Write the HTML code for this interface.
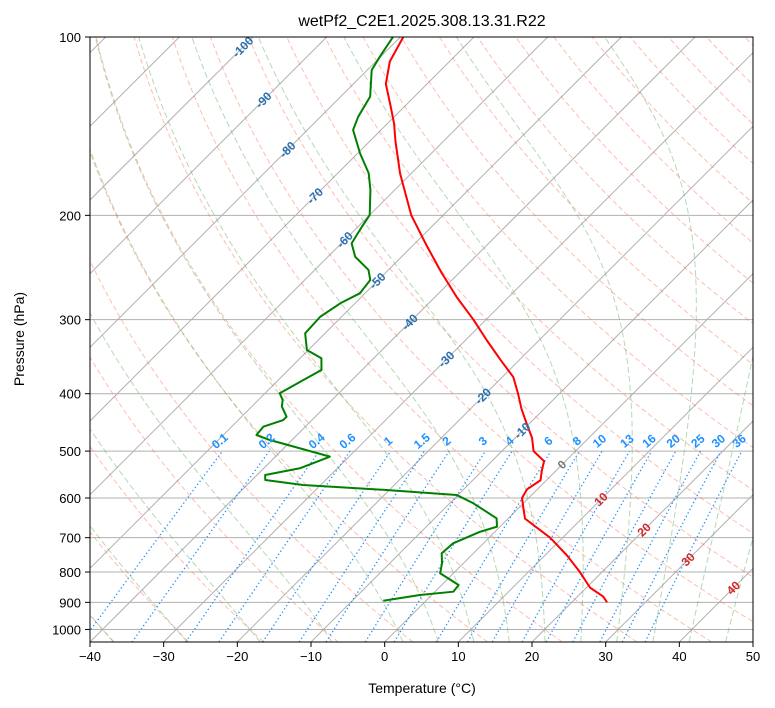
<!DOCTYPE html>
<html><head><meta charset="utf-8"><style>
html,body{margin:0;padding:0;background:#fff;}
svg{display:block;font-family:"Liberation Sans","DejaVu Sans",sans-serif;}
</style></head><body>
<svg id="chart" width="775" height="708" viewBox="0 0 775 708" xmlns="http://www.w3.org/2000/svg">
<defs><clipPath id="clip"><rect x="90" y="37" width="663" height="605"/></clipPath></defs>
<rect x="0" y="0" width="775" height="708" fill="#fff"/>
<g id="plot" clip-path="url(#clip)"></g>
<g id="labels" clip-path="url(#clip)"></g>
<rect x="90" y="37" width="663" height="605" fill="none" stroke="#000" stroke-width="1"/>
<g id="axes"></g>
<text x="422" y="26" text-anchor="middle" font-size="16">wetPf2_C2E1.2025.308.13.31.R22</text>
<text x="422" y="693" text-anchor="middle" font-size="14">Temperature (°C)</text>
<text x="24" y="339" text-anchor="middle" font-size="14" transform="rotate(-90 24 339)">Pressure (hPa)</text>
</svg>
<script>
const tempP = [100,110,120,130,140,150,170,200,225,250,275,300,325,350,375,400,425,450,475,500,520,540,560,580,600,620,650,700,750,800,850,880,900];
const tempT = [-79.6,-78.1,-75.6,-72.2,-69.1,-66.5,-61.5,-54.3,-48.1,-42.4,-37.0,-31.7,-27.1,-22.7,-18.5,-15.6,-13.0,-10.3,-7.7,-5.7,-2.9,-1.9,-0.8,-1.4,-0.9,0.4,2.3,8.3,13.0,17.0,20.5,23.5,24.8];
const dewP = [100,108,113.7,126.1,136.3,143.5,157.1,169.8,181.2,199.7,211.7,223,234.9,247.3,257.1,270.8,281.5,296.6,316.3,337.5,348.6,364.8,379.3,399.4,409.9,420.7,437.4,443.1,454.8,469.7,478.9,510.9,534.5,548.6,559.4,570.4,581.6,592.9,612.4,649.2,670.8,684,715.5,743.8,773.3,803.9,841.3,863.5,874.7,894.3];
const dewT = [-81.0,-80.1,-79.4,-76.0,-74.9,-73.8,-69.7,-65.8,-63.3,-60.0,-59.3,-58.6,-56.3,-52.7,-51.1,-50.7,-52.0,-52.9,-52.7,-50.2,-47.1,-45.5,-46.6,-48.0,-46.7,-45.9,-43.9,-43.9,-45.7,-45.5,-43.0,-32.6,-35.1,-38.9,-38.2,-32.4,-20.4,-10.2,-6.8,-1.6,-0.4,-2.0,-4.1,-4.3,-2.9,-1.8,2.3,2.5,-1.6,-5.8];
const xTicks = [-40,-30,-20,-10,0,10,20,30,40,50];
const pTicks = [100,200,300,400,500,600,700,800,900,1000];
const mixRatios = [0.1,0.2,0.4,0.6,1,1.5,2,3,4,6,8,10,13,16,20,25,30,36];
const isoLabelT = [-100,-90,-80,-70,-60,-50,-40,-30,-20,-10,0,10,20,30,40];
const isoLabelP = [104,127.8,155,185.5,220,258,303,350,404,462,527,603,679,762,851];

const X0=90,X1=753,Y0=37,Y1=642,NS='http://www.w3.org/2000/svg';
const KX=(X1-X0)/90;
function yP(p){return Y0+(Y1-Y0)*Math.log(p/100)/Math.log(10.5);}
function xT(T,p){return X0+(T+40)*KX+(Y1-yP(p));}
function mk(tag,attrs,parent){const e=document.createElementNS(NS,tag);for(const k in attrs)e.setAttribute(k,attrs[k]);parent.appendChild(e);return e;}
const plot=document.getElementById('plot'),labels=document.getElementById('labels'),axes=document.getElementById('axes');
function pathOf(ps,ts){return ps.map((p,i)=>(i?'L':'M')+xT(ts[i],p).toFixed(2)+' '+yP(p).toFixed(2)).join('');}
function logRange(a,b,n){const r=[];for(let i=0;i<=n;i++)r.push(a*Math.pow(b/a,i/n));return r;}

pTicks.forEach(p=>{
  const l=mk('line',{x1:X0,x2:X1,y1:yP(p),y2:yP(p),stroke:'#b0b0b0','stroke-width':1},plot);
  
  
});
for(let T=-170;T<=50;T+=10){
  const l=mk('line',{x1:xT(T,1050),y1:yP(1050),x2:xT(T,100),y2:yP(100),stroke:'#b0b0b0','stroke-width':1},plot);
  
  
}
const pl=logRange(1050,100,50);
for(let t0=-40;t0<=250;t0+=10){
  const th=t0+273.15;
  const ts=pl.map(p=>th*Math.pow(p/1000,0.2857)-273.15);
  const e=mk('path',{d:pathOf(pl,ts),fill:'none',stroke:'rgba(250,110,80,0.45)','stroke-width':1,'stroke-dasharray':'5,3'},plot);
  
  
}
function es(T){return 6.112*Math.exp(17.67*T/(T+243.5));}
function dTdp(p,Tc){const T=Tc+273.15,e=es(Tc),rs=0.622*e/(p-e),Rd=287.04,Lv=2.501e6,Cp=1005.7,eps=0.622;
  return (Rd*T+Lv*rs)/(p*(Cp+Lv*Lv*rs*eps/(Rd*T*T)));}
function moist(t0){
  const up=[];let T=t0,p=1000;const n=60;
  const pu=logRange(1000,100,n);
  for(let i=0;i<=n;i++){up.push([pu[i],T]);if(i<n){const h=pu[i+1]-pu[i];
    const k1=dTdp(p,T),k2=dTdp(p+h/2,T+h/2*k1),k3=dTdp(p+h/2,T+h/2*k2),k4=dTdp(p+h,T+h*k3);
    T+=h/6*(k1+2*k2+2*k3+k4);p=pu[i+1];}}
  const h=50;const k1=dTdp(1000,t0),k2=dTdp(1025,t0+25*k1),k3=dTdp(1025,t0+25*k2),k4=dTdp(1050,t0+50*k3);
  const Tb=t0+h/6*(k1+2*k2+2*k3+k4);
  return [[1050,Tb]].concat(up);
}
const moistT0=[-40,-30,-20,-10,0,5,10,15,20,25,30,35,40,45,50];
moistT0.forEach(t0=>{
  const pts=moist(t0);
  const e=mk('path',{d:pathOf(pts.map(a=>a[0]),pts.map(a=>a[1])),fill:'none',stroke:'rgba(90,170,90,0.45)','stroke-width':1,'stroke-dasharray':'6,3'},plot);
  
  
});
function tdOf(w,p){const e=p*w/(622+w);const l=Math.log(e/6.112);return 243.5*l/(17.67-l);}
const pm=logRange(1050,500,20);
mixRatios.forEach(w=>{
  const e=mk('path',{d:pathOf(pm,pm.map(p=>tdOf(w,p))),fill:'none',stroke:'#1e90ff','stroke-width':1.3,'stroke-dasharray':'1.3,2.6'},plot);
  
  
  const x=xT(tdOf(w,500),500),y=yP(500)-7;
  const t=mk('text',{x:x,y:y,'text-anchor':'middle','font-size':12,'font-weight':'bold',fill:'#1e90ff',transform:`rotate(-40 ${x} ${y})`},labels);
  t.textContent=String(w);
  
  
});
isoLabelT.forEach((T,i)=>{
  const p=isoLabelP[i],x=xT(T,p),y=yP(p)+4;
  const col=T<0?'#2a6fb0':(T>0?'#d62728':'#777');
  const t=mk('text',{x:x,y:y,'text-anchor':'middle','font-size':12,'font-weight':'bold',fill:col,transform:`rotate(-45 ${x} ${y-4})`},labels);
  t.textContent=String(T);
  
  
});
const tl=mk('path',{d:pathOf(tempP,tempT),fill:'none',stroke:'#ff0000','stroke-width':2,'stroke-linejoin':'round'},plot);


const dl=mk('path',{d:pathOf(dewP,dewT),fill:'none',stroke:'#008000','stroke-width':2,'stroke-linejoin':'round'},plot);


xTicks.forEach(T=>{
  const x=X0+(T+40)*KX;
  const l=mk('line',{x1:x,x2:x,y1:Y1,y2:Y1+5,stroke:'#000'},axes);
  
  
  const t=mk('text',{x:x,y:Y1+19,'text-anchor':'middle','font-size':13},axes);
  t.textContent=T<0?'\u2212'+(-T):String(T);
  
  
});
pTicks.forEach(p=>{
  const y=yP(p);
  const l=mk('line',{x1:X0-5,x2:X0,y1:y,y2:y,stroke:'#000'},axes);
  
  
  const t=mk('text',{x:X0-9,y:y+5,'text-anchor':'end','font-size':13},axes);
  t.textContent=String(p);
  
  
});
</script>
</body></html>
